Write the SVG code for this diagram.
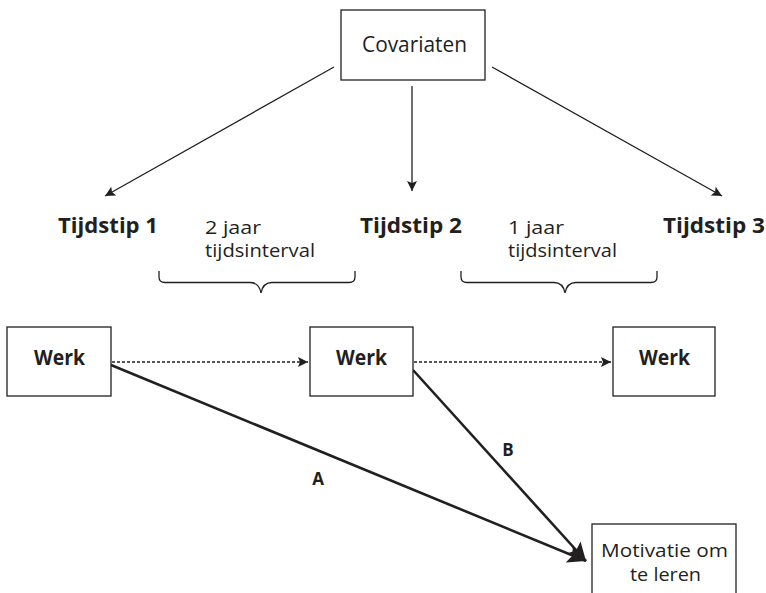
<svg xmlns="http://www.w3.org/2000/svg" width="766" height="593" viewBox="0 0 766 593">
<defs>
<style>
.box{fill:#fff;stroke:#231f20;stroke-width:1.3}
.t{font-family:"Open Sans","Liberation Sans",sans-serif;fill:#231f20}
.n{font-size:18.5px}
.m{font-size:19px}
.c{font-size:21px}
.b{font-size:21px;font-weight:bold}
.l{font-size:17px;font-weight:bold}
.thin{stroke:#231f20;stroke-width:1.3;fill:none}
.thick{stroke:#231f20;stroke-width:2.6;fill:none}
.dot{stroke:#231f20;stroke-width:1.3;fill:none;stroke-dasharray:3 2}
</style>
<marker id="ah" viewBox="0 0 10 10" refX="10" refY="5" markerWidth="10" markerHeight="10" markerUnits="userSpaceOnUse" orient="auto"><path d="M0,0 L10,5 L0,10 L2,5 z" fill="#231f20"/></marker>
<marker id="ahb" viewBox="0 0 10 10" refX="10" refY="5" markerWidth="7" markerHeight="7" orient="auto"><path d="M0,0 L10,5 L0,10 L2,5 z" fill="#231f20"/></marker>
</defs>
<g id="connectors">
<line class="thin" x1="334" y1="67" x2="105" y2="196" marker-end="url(#ah)"/>
<line class="thin" x1="412" y1="86" x2="412" y2="191" marker-end="url(#ah)"/>
<line class="thin" x1="492" y1="67" x2="722" y2="196" marker-end="url(#ah)"/>
<line class="dot" x1="112" y1="362" x2="308" y2="362" marker-end="url(#ah)"/>
<line class="dot" x1="414" y1="362" x2="611" y2="362" marker-end="url(#ah)"/>
<line class="thick" x1="111" y1="365" x2="586" y2="561" marker-end="url(#ahb)"/>
<line class="thick" x1="413" y1="370" x2="586" y2="561" marker-end="url(#ahb)"/>
<text class="t l" x="318" y="485" text-anchor="middle">A</text>
<text class="t l" x="508" y="456" text-anchor="middle">B</text>
</g>
<g id="covariaten">
<rect class="box" x="341" y="10" width="144" height="70"/>
<text class="t c" x="362" y="52" textLength="105" lengthAdjust="spacingAndGlyphs">Covariaten</text>
</g>
<g id="tijdstip1"><text class="t b" x="58" y="233" textLength="100" lengthAdjust="spacingAndGlyphs">Tijdstip 1</text></g>
<g id="tijdstip2"><text class="t b" x="360" y="233" textLength="102" lengthAdjust="spacingAndGlyphs">Tijdstip 2</text></g>
<g id="tijdstip3"><text class="t b" x="663" y="233" textLength="102" lengthAdjust="spacingAndGlyphs">Tijdstip 3</text></g>
<g id="interval1">
<text class="t n" x="205" y="234" textLength="56" lengthAdjust="spacingAndGlyphs">2 jaar</text>
<text class="t n" x="205" y="257" textLength="110" lengthAdjust="spacingAndGlyphs">tijdsinterval</text>
<path class="thin" d="M159,271 V277 Q159,282.5 165,282.5 H250 Q259,282.5 261,293 Q263,282.5 272,282.5 H349 Q355,282.5 355,277 V271"/>
</g>
<g id="interval2">
<text class="t n" x="508" y="234" textLength="56" lengthAdjust="spacingAndGlyphs">1 jaar</text>
<text class="t n" x="508" y="257" textLength="109" lengthAdjust="spacingAndGlyphs">tijdsinterval</text>
<path class="thin" d="M461,271 V277 Q461,282.5 467,282.5 H554 Q563,282.5 565,293 Q567,282.5 576,282.5 H651 Q657,282.5 657,277 V271"/>
</g>
<g id="werk1">
<rect class="box" x="7" y="327" width="104" height="69"/>
<text class="t b" x="34" y="365" textLength="51" lengthAdjust="spacingAndGlyphs">Werk</text>
</g>
<g id="werk2">
<rect class="box" x="310" y="327" width="103" height="69"/>
<text class="t b" x="336" y="365" textLength="51" lengthAdjust="spacingAndGlyphs">Werk</text>
</g>
<g id="werk3">
<rect class="box" x="613" y="327" width="102" height="69"/>
<text class="t b" x="639" y="365" textLength="51" lengthAdjust="spacingAndGlyphs">Werk</text>
</g>
<g id="motivatie">
<rect class="box" x="592" y="524" width="144" height="90"/>
<text class="t m" x="601" y="557" textLength="127" lengthAdjust="spacingAndGlyphs">Motivatie om</text>
<text class="t m" x="630" y="581" textLength="71" lengthAdjust="spacingAndGlyphs">te leren</text>
</g>
</svg>
